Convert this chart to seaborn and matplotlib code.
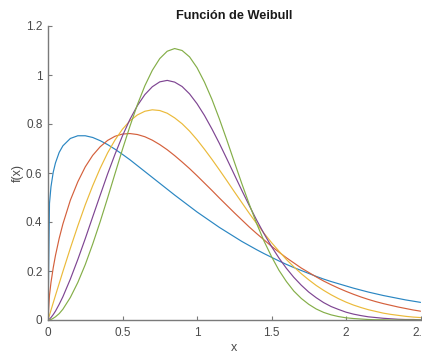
import numpy as np
import pandas as pd
import matplotlib
matplotlib.use("Agg")
import matplotlib.pyplot as plt
import seaborn as sns

# x positions at which the curves were read
x_vals = [0, 0.01, 0.02, 0.035, 0.05, 0.075,
          0.1, 0.15, 0.2, 0.25, 0.3, 0.35, 0.4, 0.45, 0.5, 0.55, 0.6, 0.65,
          0.7, 0.75, 0.8, 0.85, 0.9, 0.95, 1.0, 1.05, 1.1, 1.15, 1.2, 1.25,
          1.3, 1.35, 1.4, 1.45, 1.5, 1.55, 1.6, 1.65, 1.7, 1.75, 1.8, 1.85,
          1.9, 1.95, 2.0, 2.05, 2.1, 2.15, 2.2, 2.25, 2.3, 2.35, 2.4, 2.45, 2.5]

f_blue = [0.000, 0.476, 0.544, 0.603, 0.641, 0.684, 0.711, 0.741, 0.752, 0.752,
          0.745, 0.732, 0.716, 0.697, 0.676, 0.654, 0.630, 0.606, 0.582, 0.558,
          0.534, 0.510, 0.487, 0.464, 0.441, 0.420, 0.399, 0.378, 0.359, 0.340,
          0.321, 0.304, 0.287, 0.271, 0.256, 0.241, 0.227, 0.214, 0.202, 0.190,
          0.178, 0.167, 0.157, 0.148, 0.139, 0.130, 0.122, 0.114, 0.107, 0.100,
          0.094, 0.088, 0.082, 0.077, 0.072]

f_red = [0.000, 0.101, 0.153, 0.213, 0.263, 0.333, 0.392, 0.489, 0.564, 0.625,
         0.672, 0.707, 0.733, 0.750, 0.759, 0.761, 0.757, 0.748, 0.734, 0.716,
         0.695, 0.671, 0.645, 0.618, 0.589, 0.559, 0.529, 0.498, 0.468, 0.438,
         0.409, 0.380, 0.353, 0.327, 0.301, 0.277, 0.254, 0.233, 0.212, 0.194,
         0.176, 0.159, 0.144, 0.130, 0.117, 0.105, 0.094, 0.084, 0.075, 0.067,
         0.060, 0.053, 0.047, 0.041, 0.036]

f_yellow = [0.000, 0.020, 0.040, 0.070, 0.100, 0.149, 0.198, 0.293, 0.384, 0.470,
            0.548, 0.619, 0.682, 0.735, 0.779, 0.813, 0.837, 0.852, 0.858, 0.855,
            0.844, 0.825, 0.801, 0.771, 0.736, 0.697, 0.656, 0.613, 0.569, 0.524,
            0.480, 0.436, 0.394, 0.354, 0.316, 0.281, 0.247, 0.217, 0.189, 0.164,
            0.141, 0.121, 0.103, 0.087, 0.073, 0.061, 0.051, 0.042, 0.035, 0.028,
            0.023, 0.019, 0.015, 0.012, 0.010]

f_purple = [0.000, 0.004, 0.010, 0.022, 0.036, 0.064, 0.095, 0.167, 0.247, 0.332,
            0.421, 0.509, 0.596, 0.677, 0.752, 0.819, 0.875, 0.920, 0.952, 0.972,
            0.978, 0.971, 0.953, 0.923, 0.883, 0.835, 0.780, 0.721, 0.658, 0.594,
            0.530, 0.468, 0.408, 0.352, 0.300, 0.253, 0.211, 0.174, 0.142, 0.114,
            0.091, 0.071, 0.055, 0.043, 0.032, 0.024, 0.018, 0.013, 0.010, 0.007,
            0.005, 0.003, 0.002, 0.002, 0.001]

f_green = [0.000, 0.001, 0.002, 0.007, 0.013, 0.026, 0.044, 0.092, 0.153, 0.226,
           0.310, 0.401, 0.498, 0.598, 0.697, 0.791, 0.879, 0.956, 1.019, 1.067,
           1.097, 1.108, 1.100, 1.074, 1.030, 0.971, 0.901, 0.821, 0.735, 0.646,
           0.558, 0.474, 0.394, 0.322, 0.259, 0.203, 0.157, 0.118, 0.088, 0.064,
           0.045, 0.031, 0.021, 0.014, 0.009, 0.006, 0.004, 0.002, 0.001, 0.001,
           0.000, 0.000, 0.000, 0.000, 0.000]

series_names = ["k1", "k2", "k3", "k4", "k5"]
series_values = [f_blue, f_red, f_yellow, f_purple, f_green]
x_ticks = [0, 0.5, 1, 1.5, 2, 2.5]
x_tick_labels = ["0", "0.5", "1", "1.5", "2", "2.5"]
y_ticks = [0, 0.2, 0.4, 0.6, 0.8, 1.0, 1.2]
y_tick_labels = ["0", "0.2", "0.4", "0.6", "0.8", "1", "1.2"]

df = pd.concat(
    [pd.DataFrame({"x": x_vals, "f": vals, "serie": name})
     for name, vals in zip(series_names, series_values)],
    ignore_index=True,
)

sns.set_style("white")
plt.rcParams["font.family"] = ["Liberation Sans", "DejaVu Sans"]

fig = plt.figure(figsize=(4.22, 3.54), dpi=100)
ax = fig.add_axes([48 / 422, 34 / 354, 372.5 / 422, 294 / 354])
colors = ["#2a86c2", "#d4603c", "#ebba3a", "#7e4592", "#84ae48"]
sns.lineplot(data=df, x="x", y="f", hue="serie", palette=colors,
             estimator=None, sort=False, legend=False, ax=ax, lw=0.85)

ax.set_xlim(0, 2.5)
ax.set_ylim(0, 1.2)
ax.set_xticks(x_ticks)
ax.set_xticklabels(x_tick_labels)
ax.set_yticks(y_ticks)
ax.set_yticklabels(y_tick_labels)

gray = "#7a7a7a"
for s in ["top", "right"]:
    ax.spines[s].set_visible(False)
for s in ["left", "bottom"]:
    ax.spines[s].set_color(gray)
    ax.spines[s].set_linewidth(1.0)
ax.tick_params(axis="both", direction="in", length=3, width=0.8, color=gray,
               labelsize=8.5, labelcolor="#4a4a4a", left=True, bottom=True)
ax.tick_params(axis="x", pad=5)
ax.tick_params(axis="y", pad=4)

ax.set_xlabel("x", fontsize=9, color="#4a4a4a", labelpad=2.5)
ax.set_ylabel("f(x)", fontsize=9, color="#4a4a4a", labelpad=1.5)
ax.set_title("Función de Weibull", fontsize=9.2, fontweight="bold",
             color="#1a1a1a", pad=5)

fig.savefig("out.png", dpi=100)
